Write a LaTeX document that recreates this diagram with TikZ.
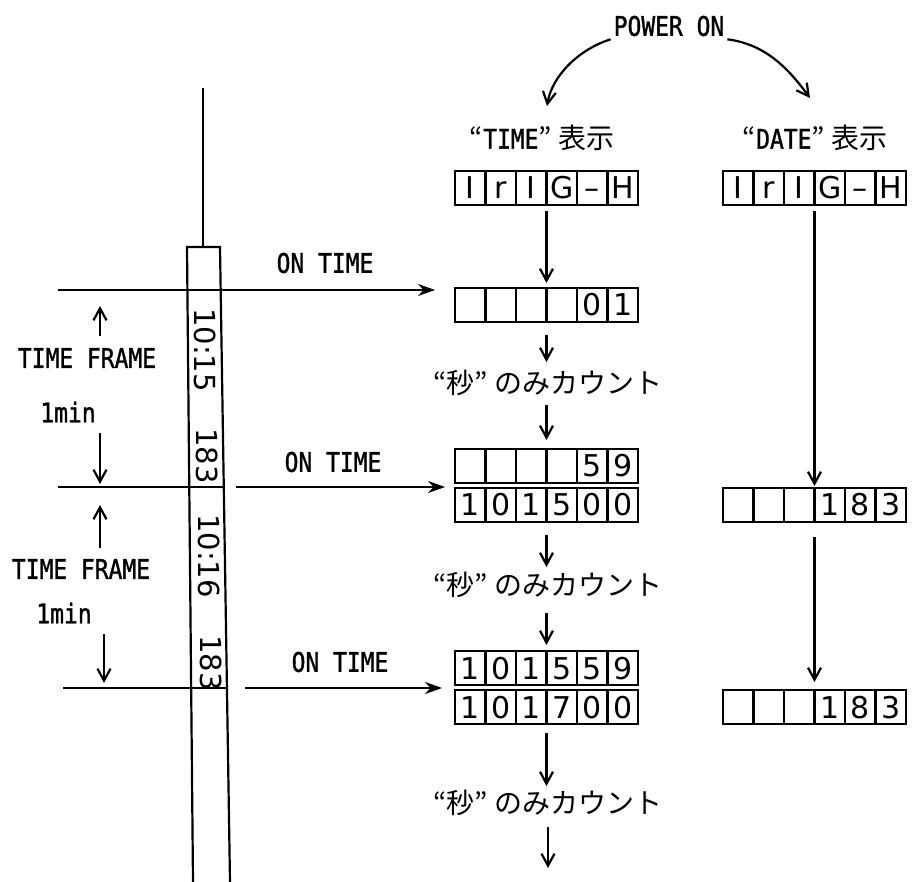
\documentclass[tikz,border=0pt]{standalone}
\usepackage{fontspec}
\newfontfamily\lblfont[FakeStretch=0.85,FakeBold=1.2]{DejaVu Sans Mono}
\newfontfamily\tapefont{DejaVu Sans}
\newfontfamily\jpfont{Noto Sans CJK JP}
\newcommand{\jpbig}{\jpfont\fontsize{28}{28}\selectfont}
\usetikzlibrary{positioning,arrows.meta}

\tikzset{
  cell/.style={rectangle,draw,minimum width=30.5pt,minimum height=34pt,inner sep=0pt,outer sep=0pt,
    text height=22pt,text depth=0pt,font=\tapefont\fontsize{30}{30}\selectfont},
  lbl/.style={font=\lblfont\fontsize{27}{27}\selectfont,inner sep=2pt},
  jplbl/.style={font=\jpbig,inner sep=0pt},
  tape/.style={font=\tapefont\fontsize{29}{29}\selectfont,rotate=-90,inner sep=0pt},
  flow/.style={-{Straight Barb[length=12pt,width=13pt]}},
  ontime/.style={-{Stealth[length=17pt,width=12pt]}}
}

\begin{document}
\begin{tikzpicture}[x=1pt,y=-1pt,line width=2.2pt]
  \useasboundingbox (0,0) rectangle (914,882);

  % tape
  \coordinate (tapetop) at (203,88);
  \coordinate (tnw) at (187,247);
  \coordinate (tne) at (220,247);
  \coordinate (tse) at (230,882);
  \coordinate (tsw) at (193,882);
  \draw (tsw) -- (tnw) -- (tne) -- (tse);
  \draw (tapetop) -- (tapetop |- tnw);
  \node[tape] (code1) at (205,350) {10:15};
  \node[tape] (day1) at (207,456) {183};
  \node[tape] (code2) at (209,556) {10:16};
  \node[tape] (day2) at (211,663) {183};

  % frame lines
  \coordinate (l1) at (58,290);
  \coordinate (l2) at (58,487);
  \coordinate (r2) at (224,487);
  \coordinate (a2) at (236,487);
  \coordinate (l3) at (63,688);
  \coordinate (r3) at (227,688);
  \coordinate (a3) at (245,688);

  % TIME displays
  \node[cell] (ti1) at (470.25,188) {I};
  \node[cell,right=0pt of ti1] (ti2) {r};
  \node[cell,right=0pt of ti2] (ti3) {I};
  \node[cell,right=0pt of ti3] (ti4) {G};
  \node[cell,right=0pt of ti4] (ti5) {–};
  \node[cell,right=0pt of ti5] (ti6) {H};

  \node[cell] (tz1) at (470.25,305) {};
  \node[cell,right=0pt of tz1] (tz2) {};
  \node[cell,right=0pt of tz2] (tz3) {};
  \node[cell,right=0pt of tz3] (tz4) {};
  \node[cell,right=0pt of tz4] (tz5) {0};
  \node[cell,right=0pt of tz5] (tz6) {1};

  \node[cell] (ts1) at (470.25,466) {};
  \node[cell,right=0pt of ts1] (ts2) {};
  \node[cell,right=0pt of ts2] (ts3) {};
  \node[cell,right=0pt of ts3] (ts4) {};
  \node[cell,right=0pt of ts4] (ts5) {5};
  \node[cell,right=0pt of ts5] (ts6) {9};

  \node[cell] (tm1) at (470.25,505) {1};
  \node[cell,right=0pt of tm1] (tm2) {0};
  \node[cell,right=0pt of tm2] (tm3) {1};
  \node[cell,right=0pt of tm3] (tm4) {5};
  \node[cell,right=0pt of tm4] (tm5) {0};
  \node[cell,right=0pt of tm5] (tm6) {0};

  \node[cell] (tn1) at (470.25,668) {1};
  \node[cell,right=0pt of tn1] (tn2) {0};
  \node[cell,right=0pt of tn2] (tn3) {1};
  \node[cell,right=0pt of tn3] (tn4) {5};
  \node[cell,right=0pt of tn4] (tn5) {5};
  \node[cell,right=0pt of tn5] (tn6) {9};

  \node[cell] (tp1) at (470.25,707) {1};
  \node[cell,right=0pt of tp1] (tp2) {0};
  \node[cell,right=0pt of tp2] (tp3) {1};
  \node[cell,right=0pt of tp3] (tp4) {7};
  \node[cell,right=0pt of tp4] (tp5) {0};
  \node[cell,right=0pt of tp5] (tp6) {0};

  % DATE displays
  \node[cell] (di1) at (738.25,188) {I};
  \node[cell,right=0pt of di1] (di2) {r};
  \node[cell,right=0pt of di2] (di3) {I};
  \node[cell,right=0pt of di3] (di4) {G};
  \node[cell,right=0pt of di4] (di5) {–};
  \node[cell,right=0pt of di5] (di6) {H};

  \node[cell] (dd1) at (738.25,505) {};
  \node[cell,right=0pt of dd1] (dd2) {};
  \node[cell,right=0pt of dd2] (dd3) {};
  \node[cell,right=0pt of dd3] (dd4) {1};
  \node[cell,right=0pt of dd4] (dd5) {8};
  \node[cell,right=0pt of dd5] (dd6) {3};

  \node[cell] (de1) at (738.25,707) {};
  \node[cell,right=0pt of de1] (de2) {};
  \node[cell,right=0pt of de2] (de3) {};
  \node[cell,right=0pt of de3] (de4) {1};
  \node[cell,right=0pt of de4] (de5) {8};
  \node[cell,right=0pt of de5] (de6) {3};

  % labels
  \node[lbl] (power) at (669,26) {POWER ON};
  \node[lbl] (timelbl) at (542,138) {{\jpbig “}TIME{\jpbig ” 表示}};
  \node[lbl] (datelbl) at (815,138) {{\jpbig “}DATE{\jpbig ” 表示}};
  \node[jplbl] (k1) at (548,383) {“秒” のみカウント};
  \node[jplbl] (k2) at (548,585) {“秒” のみカウント};
  \node[jplbl] (k3) at (548,803) {“秒” のみカウント};
  \node[lbl] (on1) at (325,263) {ON TIME};
  \node[lbl] (on2) at (333,462) {ON TIME};
  \node[lbl] (on3) at (340,662) {ON TIME};
  \node[lbl] (tf1) at (87,358) {TIME FRAME};
  \node[lbl] (mn1) at (68,412) {1min};
  \node[lbl] (tf2) at (81,569) {TIME FRAME};
  \node[lbl] (mn2) at (64,613) {1min};

  % power on
  \draw[flow] (power.south west) .. controls +(-32,10) and +(5,-30) .. ([shift={(5,-16)}]timelbl.north);
  \draw[flow] (power.south east) .. controls +(38,5) and +(-22,-30) .. ([shift={(-5,-24)}]datelbl.north);

  % ON TIME arrows
  \draw[ontime,shorten >=20pt] (l1) -- (l1 -| tz1.west);
  \draw (l2) -- (r2);
  \draw[ontime,shorten >=10pt] (a2) -- (a2 -| tm1.west);
  \draw (l3) -- (r3);
  \draw[ontime,shorten >=13pt] (a3) -- (a3 -| tp1.west);

  % time frame arrows
  \coordinate (u1) at (100,336);
  \coordinate (d1) at (100,433);
  \coordinate (u2) at (100,548);
  \coordinate (d2) at (104,634);
  \draw[flow,shorten >=16pt] (u1) -- (u1 |- l1);
  \draw[flow,shorten >=3pt] (d1) -- (d1 |- l2);
  \draw[flow,shorten >=18pt] (u2) -- (u2 |- l2);
  \draw[flow,shorten >=5pt] (d2) -- (d2 |- l3);

  % TIME column
  \draw[flow,shorten <=6pt,shorten >=5pt] (ti3.south east) -- (tz3.north east);
  \draw[flow,shorten <=13pt,shorten >=7pt] (tz3.south east) -- (tz3.south east |- k1.north);
  \draw[flow,shorten <=8pt,shorten >=9pt] (k1.south -| ts3.north east) -- (ts3.north east);
  \draw[flow,shorten <=13pt,shorten >=4pt] (tm3.south east) -- (tm3.south east |- k2.north);
  \draw[flow,shorten <=14pt,shorten >=6pt] (k2.south -| tn3.north east) -- (tn3.north east);
  \draw[flow,shorten <=9pt,shorten >=3pt] (tp3.south east) -- (tp3.south east |- k3.north);
  \coordinate (kend) at (548,868);
  \draw[flow,shorten <=10pt] (k3.south -| kend) -- (kend);

  % DATE column
  \draw[flow,shorten <=6pt,shorten >=2pt] (di3.south east) -- (dd3.north east);
  \draw[flow,shorten <=15pt,shorten >=8pt] (dd3.south east) -- (de3.north east);
\end{tikzpicture}
\end{document}
